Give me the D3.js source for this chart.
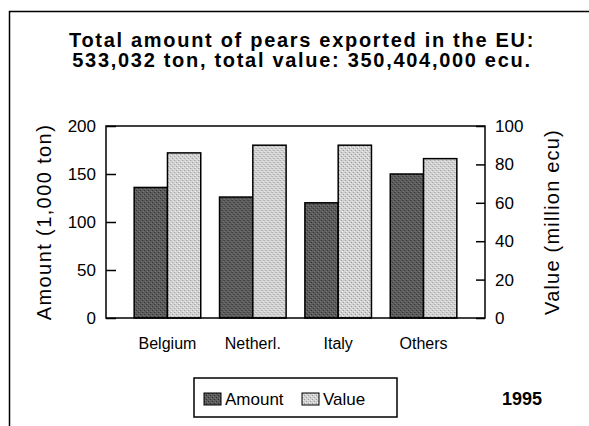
<!DOCTYPE html>
<html>
<head>
<meta charset="utf-8">
<script src="https://cdn.jsdelivr.net/npm/d3@7"></script>
<style>
  body { margin: 0; background: #fff; }
  svg { display: block; font-family: "Liberation Sans", Arial, sans-serif; }
</style>
</head>
<body>
<svg id="chart" width="589" height="426"></svg>
<script>
const countries = ['Belgium', 'Netherl.', 'Italy', 'Others'];
const amount = [136, 126, 120, 150];   // 1,000 ton
const value = [86, 90, 90, 83];        // million ecu
const amountTicks = [0, 50, 100, 150, 200];
const valueTicks = [0, 20, 40, 60, 80, 100];
const titleLines = ['Total amount of pears exported in the EU:',
                    '533,032 ton, total value: 350,404,000 ecu.'];
const year = '1995';

const FONT = '"Liberation Sans", Arial, sans-serif';
const svg = d3.select('#chart');
const margin = {left: 106, right: 485, top: 126, bottom: 318};

const x = d3.scaleBand()
  .domain(countries)
  .range([margin.left, margin.right])
  .paddingInner(0.22)
  .paddingOuter(0.33);

const xs = d3.scaleBand()
  .domain(['amount', 'value'])
  .range([0, x.bandwidth()]);

const yAmount = d3.scaleLinear().domain([0, 200]).range([margin.bottom, margin.top]);
const yValue = d3.scaleLinear().domain([0, 100]).range([margin.bottom, margin.top]);

// dithered greys, like the scanned print
const defs = svg.append('defs');
const patterns = [
  {id: 'pat-amount', base: '#5c5c5c', dot: '#2e2e2e', light: '#7a7a7a'},
  {id: 'pat-value', base: '#d2d2d2', dot: '#9a9a9a', light: '#eeeeee'}
];
patterns.forEach(p => {
  const pat = defs.append('pattern')
    .attr('id', p.id)
    .attr('patternUnits', 'userSpaceOnUse')
    .attr('width', 4)
    .attr('height', 4);
  pat.append('rect').attr('width', 4).attr('height', 4).attr('fill', p.base);
  pat.append('rect').attr('x', 0).attr('y', 0).attr('width', 1).attr('height', 1).attr('fill', p.dot);
  pat.append('rect').attr('x', 2).attr('y', 2).attr('width', 1).attr('height', 1).attr('fill', p.dot);
  pat.append('rect').attr('x', 1).attr('y', 3).attr('width', 1).attr('height', 1).attr('fill', p.light);
  pat.append('rect').attr('x', 3).attr('y', 1).attr('width', 1).attr('height', 1).attr('fill', p.light);
});
const fills = {amount: 'url(#pat-amount)', value: 'url(#pat-value)'};

// outer frame (only top + left visible in the scan)
svg.append('path')
  .attr('d', 'M9.5,426 V11.5 H589')
  .attr('fill', 'none')
  .attr('stroke', '#000')
  .attr('stroke-width', 1.5);

// title
svg.append('text')
  .attr('font-weight', 'bold')
  .attr('font-size', 20)
  .attr('letter-spacing', 1.7)
  .attr('text-anchor', 'middle')
  .selectAll('tspan')
  .data(titleLines)
  .enter().append('tspan')
    .attr('x', 302)
    .attr('y', (d, i) => 47 + i * 20)
    .text(d => d);

// bars
const rows = countries.map((c, i) => ({country: c, amount: amount[i], value: value[i]}));

const group = svg.selectAll('.grp')
  .data(rows)
  .enter().append('g')
    .attr('class', 'grp')
    .attr('transform', d => `translate(${x(d.country)},0)`);

group.append('rect')
  .attr('x', xs('amount'))
  .attr('width', xs.bandwidth())
  .attr('y', d => yAmount(d.amount))
  .attr('height', d => margin.bottom - yAmount(d.amount))
  .attr('fill', fills.amount)
  .attr('stroke', '#000')
  .attr('stroke-width', 1.5);

group.append('rect')
  .attr('x', xs('value'))
  .attr('width', xs.bandwidth())
  .attr('y', d => yValue(d.value))
  .attr('height', d => margin.bottom - yValue(d.value))
  .attr('fill', fills.value)
  .attr('stroke', '#000')
  .attr('stroke-width', 1.5);

// plot frame
svg.append('rect')
  .attr('x', margin.left)
  .attr('y', margin.top)
  .attr('width', margin.right - margin.left)
  .attr('height', margin.bottom - margin.top)
  .attr('fill', 'none')
  .attr('stroke', '#000')
  .attr('stroke-width', 1.5);

// axes
const leftAxis = svg.append('g')
  .attr('transform', `translate(${margin.left},0)`)
  .call(d3.axisLeft(yAmount).tickValues(amountTicks).tickSize(-10).tickPadding(10));

const rightAxis = svg.append('g')
  .attr('transform', `translate(${margin.right},0)`)
  .call(d3.axisRight(yValue).tickValues(valueTicks).tickSize(-9).tickPadding(10));

[leftAxis, rightAxis].forEach(a => {
  a.select('.domain').remove();
  a.selectAll('line').attr('stroke', '#000').attr('stroke-width', 1.5);
  a.selectAll('text')
    .attr('font-family', FONT)
    .attr('font-size', 17)
    .attr('fill', '#000');
});

svg.append('g')
  .attr('transform', `translate(0,${margin.bottom})`)
  .call(d3.axisBottom(x).tickSize(0).tickPadding(20))
  .call(g => g.select('.domain').remove())
  .selectAll('text')
    .attr('font-family', FONT)
    .attr('font-size', 16)
    .attr('fill', '#000');

// axis titles
const midY = (margin.top + margin.bottom) / 2;
svg.append('text')
  .attr('transform', `translate(51,${midY}) rotate(-90)`)
  .attr('text-anchor', 'middle')
  .attr('font-size', 20)
  .attr('letter-spacing', 1.4)
  .text('Amount (1,000 ton)');

svg.append('text')
  .attr('transform', `translate(559,${midY}) rotate(-90)`)
  .attr('text-anchor', 'middle')
  .attr('font-size', 20)
  .attr('letter-spacing', 1.2)
  .text('Value (million ecu)');

// legend
const legend = svg.append('g').attr('transform', 'translate(194,378)');
legend.append('rect')
  .attr('width', 203)
  .attr('height', 39)
  .attr('fill', '#fff')
  .attr('stroke', '#000')
  .attr('stroke-width', 1.5);

const legendItems = [
  {key: 'amount', label: 'Amount', x: 10},
  {key: 'value', label: 'Value', x: 108}
];

const item = legend.selectAll('.item')
  .data(legendItems)
  .enter().append('g')
    .attr('class', 'item')
    .attr('transform', d => `translate(${d.x},15)`);

item.append('rect')
  .attr('width', 17)
  .attr('height', 12)
  .attr('fill', d => fills[d.key])
  .attr('stroke', '#000')
  .attr('stroke-width', 1);

item.append('text')
  .attr('x', 21)
  .attr('y', 12)
  .attr('font-size', 17)
  .text(d => d.label);

svg.append('text')
  .attr('x', 502)
  .attr('y', 405)
  .attr('font-size', 18)
  .attr('font-weight', 'bold')
  .text(year);
</script>
</body>
</html>
